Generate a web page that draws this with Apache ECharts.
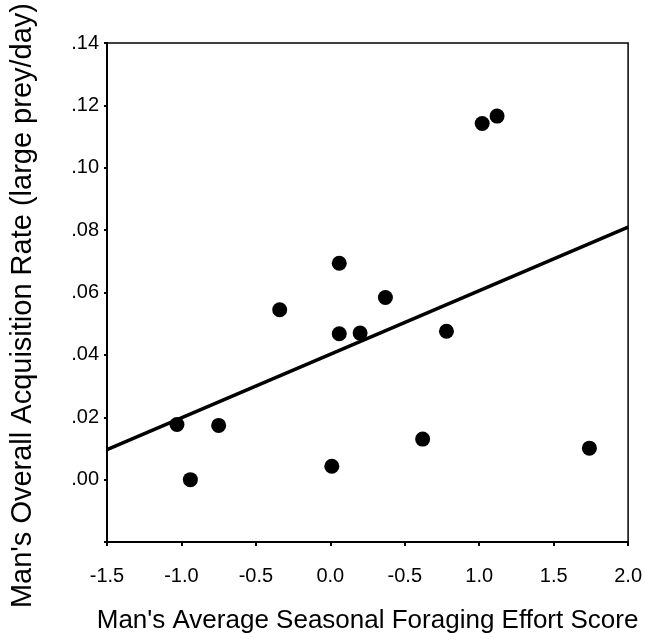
<!DOCTYPE html>
<html><head><meta charset="utf-8">
<script src="https://cdn.jsdelivr.net/npm/echarts@6/dist/echarts.min.js"></script>
<style>html,body{margin:0;padding:0;background:#fff}#c{width:645px;height:641px}</style>
</head><body><div id="c"></div>
<script>
const effortScore = [-1.03, -0.94, -0.75, -0.34, 0.01, 0.06, 0.06, 0.20, 0.37, 0.62, 0.78, 1.02, 1.12, 1.74];
const acquisitionRate = [0.0177, 0.0000, 0.0174, 0.0545, 0.0043, 0.0468, 0.0694, 0.0470, 0.0584, 0.0130, 0.0476, 0.1142, 0.1166, 0.0101];
const fitX = [-1.5, 2.0];
const fitY = [0.0096, 0.0810];
const xTickValues = [-1.5, -1.0, -0.5, 0.0, 0.5, 1.0, 1.5, 2.0];
const xTickLabels = ["-1.5", "-1.0", "-0.5", "0.0", "-0.5", "1.0", "1.5", "2.0"];
const yTickValues = [-0.02, 0.00, 0.02, 0.04, 0.06, 0.08, 0.10, 0.12, 0.14];
const yTickLabels = ["", ".00", ".02", ".04", ".06", ".08", ".10", ".12", ".14"];

const font = "'Liberation Sans', Arial, sans-serif";
function lookup(vals, labels, v) {
  for (let i = 0; i < vals.length; i++) if (Math.abs(vals[i] - v) < 1e-6) return labels[i];
  return "";
}
const chart = echarts.init(document.getElementById('c'), null, {renderer: 'canvas'});
chart.setOption({
  animation: false,
  grid: {left: 107, right: 11, top: 42, bottom: 99, show: true, borderColor: '#000', borderWidth: 1.5, backgroundColor: 'transparent'},
  xAxis: {
    type: 'value', min: -1.5, max: 2.0, interval: 0.5,
    name: "Man's Average Seasonal Foraging Effort Score", nameLocation: 'middle', nameGap: 66,
    nameTextStyle: {fontFamily: font, fontSize: 26, color: '#000'},
    axisLine: {show: true, onZero: false, lineStyle: {color: '#000', width: 2}},
    axisTick: {show: true, length: 4, lineStyle: {color: '#000', width: 2}},
    axisLabel: {fontFamily: font, fontSize: 20, color: '#000', margin: 24,
      formatter: v => lookup(xTickValues, xTickLabels, v)},
    splitLine: {show: false}
  },
  yAxis: {
    type: 'value', min: -0.02, max: 0.14, interval: 0.02,
    name: "Man's Overall Acquisition Rate (large prey/day)", nameLocation: 'middle', nameGap: 70,
    nameTextStyle: {fontFamily: font, fontSize: 29, color: '#000', padding: [0, 26, 0, 0]},
    axisLine: {show: true, onZero: false, lineStyle: {color: '#000', width: 2}},
    axisTick: {show: true, length: 3, lineStyle: {color: '#000', width: 2}},
    axisLabel: {fontFamily: font, fontSize: 20, color: '#000', margin: 8,
      formatter: v => lookup(yTickValues, yTickLabels, v)},
    splitLine: {show: false}
  },
  series: [
    {type: 'line', data: fitX.map((x, i) => [x, fitY[i]]), symbol: 'none',
     lineStyle: {color: '#000', width: 3.5}, z: 2},
    {type: 'scatter', data: effortScore.map((x, i) => [x, acquisitionRate[i]]),
     symbol: 'circle', symbolSize: 15, itemStyle: {color: '#000', opacity: 1}, z: 3}
  ]
});
</script></body></html>
